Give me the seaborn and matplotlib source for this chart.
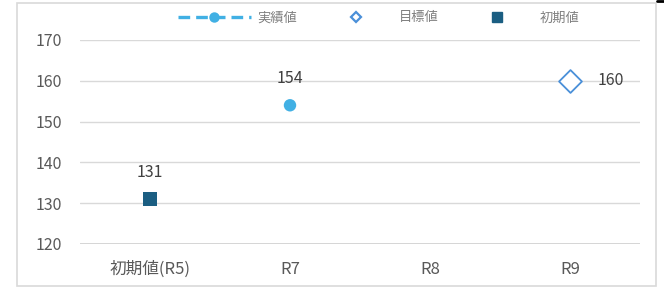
import pandas as pd
import numpy as np
import matplotlib
matplotlib.use('Agg')
import matplotlib.pyplot as plt
from matplotlib.lines import Line2D
from matplotlib.patches import Rectangle
import seaborn as sns

categories = ['初期値(R5)', 'R7', 'R8', 'R9']
actual = [np.nan, 154, np.nan, np.nan]
target = [np.nan, np.nan, np.nan, 160]
initial = [131, np.nan, np.nan, np.nan]
y_ticks = [120, 130, 140, 150, 160, 170]

c_actual = '#41B0E4'
c_target = '#4A90D9'
c_initial = '#1B5E82'
grey = '#595959'

sns.set_theme(style='white')
plt.rcParams['font.family'] = ['Noto Sans CJK JP', 'DejaVu Sans']

df = pd.DataFrame({'cat': categories, 'actual': actual,
                   'target': target, 'initial': initial})

fig = plt.figure(figsize=(6.64, 2.89), dpi=100)
ax = fig.add_axes([80 / 664, 45 / 289, 560 / 664, 204 / 289])

# outer frame
fig.patches.append(Rectangle((17 / 664, 3 / 289), 639 / 664, 283 / 289,
                             transform=fig.transFigure, fill=False,
                             edgecolor='#D9D9D9', linewidth=1.2))
fig.add_artist(Line2D([657 / 664, 1], [1 - 1 / 289, 1 - 1 / 289],
                      transform=fig.transFigure, color='black', lw=2))

pos = {c: i for i, c in enumerate(categories)}
df['x'] = df['cat'].map(pos)

sns.scatterplot(data=df, x='x', y='actual', ax=ax, color=c_actual,
                marker='o', s=80, edgecolor='none', legend=False)
sns.scatterplot(data=df, x='x', y='target', ax=ax, marker='D', s=135,
                facecolor='white', edgecolor=c_target, linewidth=1.3,
                legend=False)
sns.scatterplot(data=df, x='x', y='initial', ax=ax, color=c_initial,
                marker='s', s=95, edgecolor='none', legend=False)

# data labels
for col, dx, dy, ha in [('actual', 0, 19, 'center'), ('initial', 0, 19, 'center'),
                        ('target', 20, 0, 'left')]:
    for x, v in zip(df['x'], df[col]):
        if not np.isnan(v):
            ax.annotate(f'{v:.0f}', (x, v), xytext=(dx, dy),
                        textcoords='offset points', ha=ha, va='center',
                        fontsize=11.5, color='#404040')

ax.set_xlim(-0.5, len(categories) - 0.5)
ax.set_ylim(120, 170)
ax.set_yticks(y_ticks)
ax.set_xticks(range(len(categories)))
ax.set_xticklabels(categories)
ax.tick_params(axis='both', length=0, labelsize=11.5, labelcolor=grey)
ax.tick_params(axis='x', labelsize=12, pad=12)
ax.tick_params(axis='y', pad=13)
ax.set_xlabel('')
ax.set_ylabel('')
ax.yaxis.grid(True, color='#D9D9D9', linewidth=1)
for s in ax.spines.values():
    s.set_visible(False)
ax.axhline(120, color='#D0D0D0', linewidth=1.2)

handles = [
    Line2D([], [], color=c_actual, lw=2.4, ls=(0, (3.5, 1.8)), marker='o',
           markersize=7.5, markeredgecolor='none'),
    Line2D([], [], ls='none', marker='D', markersize=5, markerfacecolor='white',
           markeredgecolor=c_target, markeredgewidth=1.6),
    Line2D([], [], ls='none', marker='s', markersize=6.5, color=c_initial),
]
fig.legend(handles, ['実績値', '目標値', '初期値'], loc='center',
           bbox_to_anchor=(379 / 664, 1 - 18 / 289), ncol=3, frameon=False,
           fontsize=9.5, labelcolor='#7F7F7F', handlelength=5.5,
           columnspacing=1.7, handletextpad=0.5)

fig.savefig('out.png', dpi=100)
